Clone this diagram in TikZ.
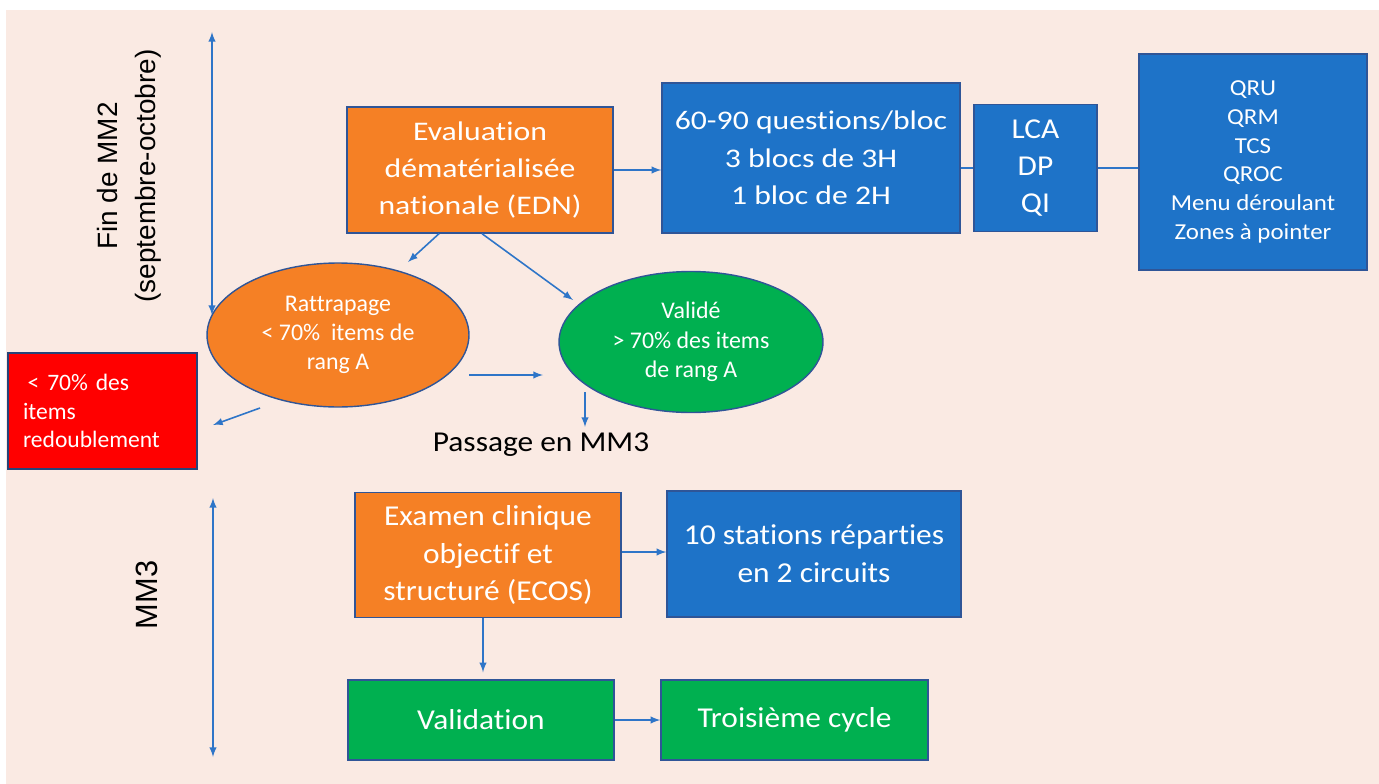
\documentclass[tikz,border=0pt]{standalone}
\usepackage{fontspec}
\setmainfont{Carlito}[Ligatures=NoCommon]
\newfontfamily\wideA{Carlito}[Ligatures=NoCommon,FakeStretch=1.18]
\newfontfamily\wideB{Carlito}[Ligatures=NoCommon,FakeStretch=1.09]
\newfontfamily\sidefont{Liberation Sans}
\usetikzlibrary{shapes.geometric}
\definecolor{bg}{RGB}{250,234,227}
\definecolor{orng}{RGB}{245,128,37}
\definecolor{blu}{RGB}{30,115,200}
\definecolor{grn}{RGB}{0,176,80}
\definecolor{red}{RGB}{255,0,0}
\definecolor{edge}{RGB}{47,85,151}
\definecolor{arr}{RGB}{46,117,200}
\tikzset{
  box/.style={draw=edge,line width=0.8pt,inner sep=0pt,align=center,text=white},
  oval/.style={box,ellipse,font=\fontsize{13.6}{16.7}\selectfont},
  arw/.style={-latex,draw=arr,line width=0.9pt},
  link/.style={draw=arr,line width=1pt},
  side/.style={rotate=90,align=center,text=black},
}
\begin{document}
\begin{tikzpicture}[x=0.02cm,y=-0.02cm]
\useasboundingbox (0,0) rectangle (1379,784);
\fill[bg] (6,10) rectangle (1379,784);
\node[side,font=\sidefont\fontsize{15.9}{21.5}\selectfont] (fin) at (129,176) {Fin de MM2\\(septembre-octobre)};
\node[side,font=\sidefont\fontsize{17.5}{21.5}\selectfont] (mm3) at (147,595) {MM3};
\coordinate (t1) at (212,32);
\coordinate (t2) at (212,315);
\coordinate (t3) at (213,498);
\coordinate (t4) at (213,757);
\draw[arw,latex-latex] (t1)--(t2);
\draw[arw,latex-latex] (t3)--(t4);
\node[box,fill=orng,minimum width=5.32cm,minimum height=2.52cm,font=\wideA\fontsize{15.3}{21}\selectfont] (edn) at (480,170) {Evaluation\\dématérialisée\\nationale (EDN)};
\node[box,fill=blu,minimum width=5.96cm,minimum height=3cm,font=\wideA\fontsize{15.3}{21.3}\selectfont] (blocs) at (811,158) {60-90 questions/bloc\\3 blocs de 3H\\1 bloc de 2H};
\node[box,fill=blu,minimum width=2.46cm,minimum height=2.54cm,font=\wideB\fontsize{16.4}{21.3}\selectfont] (lca) at (1035.5,168) {LCA\\DP\\QI};
\node[box,fill=blu,minimum width=4.56cm,minimum height=4.32cm,font=\wideB\fontsize{13}{16.4}\selectfont] (qru) at (1253,162) {QRU\\QRM\\TCS\\QROC\\Menu déroulant\\Zones à pointer};
\node[oval,fill=orng,minimum width=5.24cm,minimum height=2.88cm] (ratt) at (338,335) {Rattrapage\\< 70\%~ items de\\rang A};
\node[oval,fill=grn,minimum width=5.28cm,minimum height=2.82cm] (valide) at (691,342) {Validé\\> 70\% des items\\de rang A};
\node[box,fill=red,draw=edge!80!black,line width=1.6pt,minimum width=3.78cm,minimum height=2.32cm,text width=3.18cm,align=left,font=\fontsize{13.4}{16.4}\selectfont] (redo) at (102.5,411) {\hspace{0.2em}< 70\% des\\items\\redoublement};
\node[font=\wideB\fontsize{16.4}{20}\selectfont] (passage) at (541,445) {Passage en MM3};
\node[box,fill=orng,minimum width=5.32cm,minimum height=2.5cm,font=\wideB\fontsize{16.4}{21.5}\selectfont] (ecos) at (488,555) {Examen clinique\\objectif et\\structuré (ECOS)};
\node[box,fill=blu,minimum width=5.88cm,minimum height=2.52cm,font=\wideB\fontsize{16.4}{21.5}\selectfont] (stations) at (814,554) {10 stations réparties\\en 2 circuits};
\node[box,fill=grn,minimum width=5.32cm,minimum height=1.6cm,font=\wideB\fontsize{16.4}{21.5}\selectfont] (validation) at (481,720) {Validation};
\node[box,fill=grn,minimum width=5.34cm,minimum height=1.6cm,font=\wideB\fontsize{16.4}{21.5}\selectfont] (troisieme) at (794.5,720) {Troisième cycle};
\coordinate (r1) at (408,262);
\coordinate (v1) at (573,300);
\coordinate (r2) at (469,375);
\coordinate (v2) at (543,375);
\coordinate (v3) at (585,392);
\coordinate (r3) at (260,408);
\coordinate (d1) at (213,425);
\draw[arw] (edn.east)--(edn.east -| blocs.west);
\draw[link] (blocs.east |- lca.west)--(lca.west);
\draw[link] (lca.east)--(lca.east -| qru.west);
\draw[arw] ([xshift=-0.82cm]edn.south)--(r1);
\draw[arw] ([xshift=0.04cm]edn.south)--(v1);
\draw[arw] (r2)--(v2);
\draw[arw] (v3)--(v3 |- passage.north);
\draw[arw] (r3)--(d1);
\draw[arw] ([yshift=0.06cm]ecos.east)--([yshift=0.06cm]ecos.east -| stations.west);
\draw[arw,shorten >=0.14cm] ([xshift=-0.1cm]ecos.south)--([xshift=-0.1cm]ecos.south |- validation.north);
\draw[arw] (validation.east)--(troisieme.west);
\end{tikzpicture}
\end{document}
